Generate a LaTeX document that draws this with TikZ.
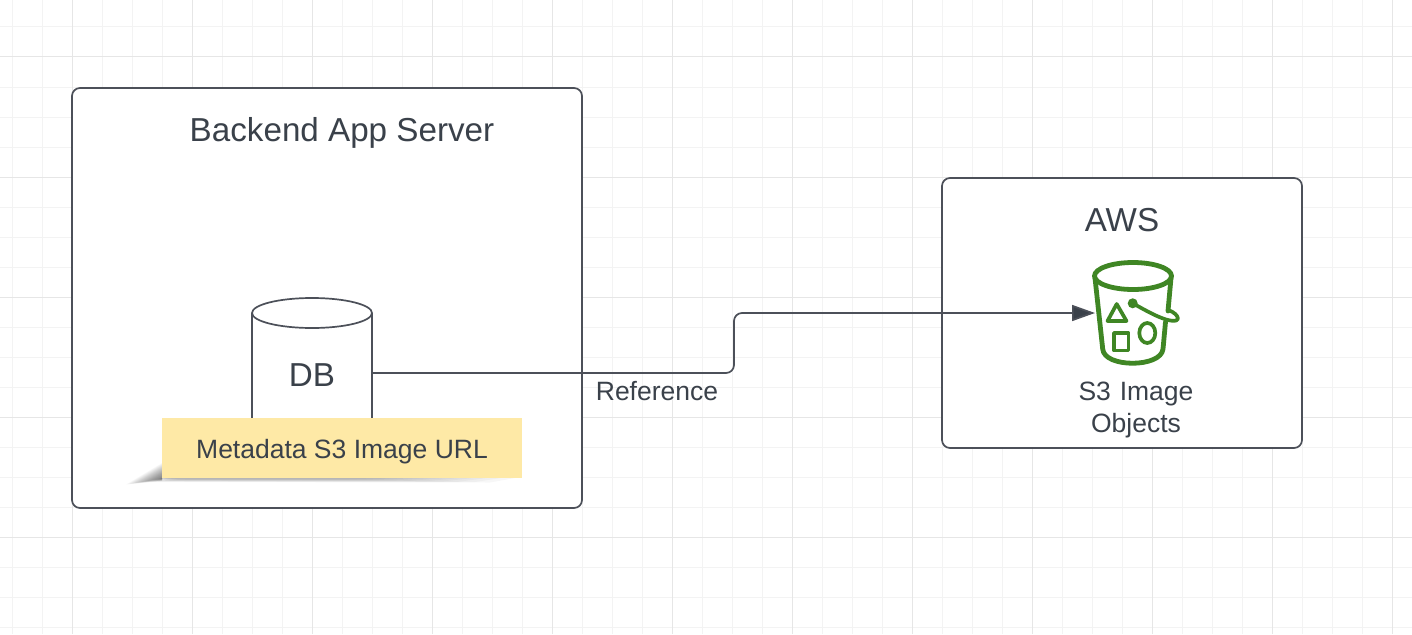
\documentclass[tikz,border=0pt]{standalone}
\usepackage{fontspec}
\setmainfont{Liberation Sans}
\usetikzlibrary{arrows.meta}
\definecolor{ink}{HTML}{3A414A}
\definecolor{edge}{HTML}{4C5059}
\definecolor{gridminor}{HTML}{F3F3F3}
\definecolor{gridmajor}{HTML}{E6E6E6}
\definecolor{notefill}{HTML}{FEE9A6}
\definecolor{awsgreen}{HTML}{3F8624}
\tikzset{
  x=1pt,y=-1pt,
  panel/.style={draw=edge,line width=1.7pt,rounded corners=8pt,fill=white},
  label/.style={text=ink,inner sep=0pt,align=center},
  bucketline/.style={draw=awsgreen,line width=4.8pt,line join=round,line cap=round},
  iconline/.style={draw=awsgreen,line width=3.7pt,line join=round,line cap=round},
}
\newcommand{\fs}[1]{\fontsize{#1}{#1}\selectfont}
\begin{document}
\begin{tikzpicture}
\useasboundingbox (0,0) rectangle (1412,634);
\fill[white] (0,0) rectangle (1412,634);
% grid
\foreach \i in {0,...,47} {\draw[gridminor,line width=1pt] ({12+30*\i},0) -- ({12+30*\i},634);}
\foreach \i in {0,...,21} {\draw[gridminor,line width=1pt] (0,{-3+30*\i}) -- (1412,{-3+30*\i});}
\foreach \i in {0,...,11} {\draw[gridmajor,line width=1pt] ({72+120*\i},0) -- ({72+120*\i},634);}
\foreach \i in {0,...,4} {\draw[gridmajor,line width=1pt] (0,{57+120*\i}) -- (1412,{57+120*\i});}
% panels
\draw[panel] (72,88) rectangle (582,508);
\draw[panel] (942,178) rectangle (1302,448);
\node[label,font=\fs{33.2}] (backend) at (342,133) {Backend App Server};
\node[label,font=\fs{33.2}] (aws) at (1122,220) {AWS};
% database
\draw[draw=edge,line width=1.7pt,fill=white] (252,313) -- (252,430) -- (372,430) -- (372,313);
\draw[draw=edge,line width=1.7pt,fill=white] (312,313) ellipse [x radius=60,y radius=15];
\node[label,font=\fs{33.2},minimum width=120pt,minimum height=120pt] (db) at (312,373) {\raisebox{-13.9pt}[0pt][0pt]{DB}};
% sticky note shadow, left wedge
\foreach \t in {0,...,24}{
  \fill[black,opacity=.022] ({126+\t*1.45},{484.5-\t*.25}) -- (162,{463+\t*.65}) -- (162,{481-\t*.1}) -- cycle;
}
% sticky note shadow, lower band
\foreach \t in {0,...,9}{
  \fill[black,opacity=.03] ({150+\t*4},{482-\t*.3}) -- ({162},478) -- ({515-\t*14},478) -- ({490-\t*16},{482.5-\t*.35}) -- cycle;
}
% sticky note
\node[label,minimum width=360pt,minimum height=60pt,fill=notefill,font=\fs{26.5}] (note) at (342,448) {\raisebox{-10.5pt}[0pt][0pt]{Metadata S3 Image URL}};
% bucket
\coordinate (bucket) at (1095,313);
\draw[bucketline] (1095,278) -- (1102.7,349) .. controls (1104,368) and (1161,368) .. (1163,349) -- (1165.5,322);
\draw[bucketline] (1168,311) -- (1171,278);
\draw[bucketline] (1133,276) ellipse [x radius=38.5,y radius=13.5];
\draw[iconline] (1116.7,304) -- (1107.5,321) -- (1126.5,321) -- cycle;
\draw[iconline] (1114,333) rectangle (1128.5,350.5);
\draw[iconline] (1147.3,333) ellipse [x radius=8,y radius=10];
\fill[awsgreen] (1132.7,303.3) circle [radius=5];
\draw[iconline] (1132.7,303.3) .. controls (1145,310) and (1155,316) .. (1166,319.5) .. controls (1176,322.5) and (1180,320) .. (1177,316) .. controls (1175,313) and (1171,311) .. (1168,310);
% connector
\draw[draw=edge,line width=1.7pt,rounded corners=8pt,-{Triangle[length=23pt,width=16pt,fill=ink]}] (db.east) -- (734,373) -- (734,313) -- (bucket);
\node[label,font=\fs{26.5}] (ref) at (657,391) {Reference};
\node[label,font=\fs{26.5},text width=200pt] (s3) at (1136,410) {S3 Image\\[6pt]Objects};
\end{tikzpicture}
\end{document}
